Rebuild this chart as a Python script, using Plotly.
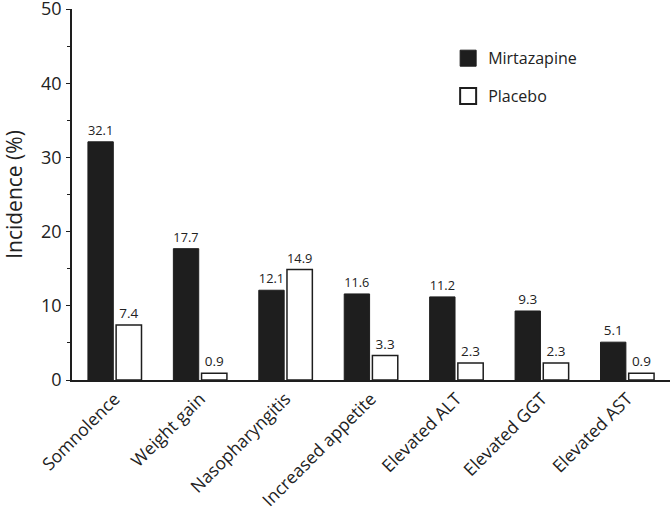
import plotly.graph_objects as go

categories = ["Somnolence", "Weight gain", "Nasopharyngitis", "Increased appetite",
              "Elevated ALT", "Elevated GGT", "Elevated AST"]
mirtazapine = [32.1, 17.7, 12.1, 11.6, 11.2, 9.3, 5.1]
placebo = [7.4, 0.9, 14.9, 3.3, 2.3, 2.3, 0.9]
y_ticks = [0, 10, 20, 30, 40, 50]

font_family = "Open Sans, Noto Sans, sans-serif"
dark = "#222222"

fig = go.Figure()
fig.add_trace(go.Bar(
    x=categories, y=mirtazapine, name="Mirtazapine",
    marker=dict(color="#1e1e1e", line=dict(color="#1e1e1e", width=1)),
    text=[f"{v:.1f}" for v in mirtazapine], textposition="outside",
    textfont=dict(size=13.5, color=dark, family=font_family),
    cliponaxis=False, showlegend=False,
))
fig.add_trace(go.Bar(
    x=categories, y=placebo, name="Placebo",
    marker=dict(color="white", line=dict(color="#1e1e1e", width=1.5)),
    text=[f"{v:.1f}" for v in placebo], textposition="outside",
    textfont=dict(size=13.5, color=dark, family=font_family),
    cliponaxis=False, showlegend=False,
))
# legend entries
fig.add_trace(go.Scatter(
    x=[None], y=[None], mode="markers", name="Mirtazapine",
    marker=dict(symbol="square", size=16, color="#1e1e1e", line=dict(color="#1e1e1e", width=1)),
    legendgroup="a",
))
fig.add_trace(go.Scatter(
    x=[None], y=[None], mode="markers", name="Placebo",
    marker=dict(symbol="square", size=16, color="white", line=dict(color="#1e1e1e", width=2)),
    legendgroup="b",
))

fig.update_layout(
    width=670, height=510,
    margin=dict(l=72, r=0, t=9, b=130, autoexpand=False),
    paper_bgcolor="white", plot_bgcolor="white",
    barmode="group", bargap=0.34, bargroupgap=0.1,
    font=dict(family=font_family, color=dark),
    legend=dict(x=0.629, y=0.913, xanchor="left", yanchor="top",
                font=dict(size=16, color=dark, family=font_family),
                tracegroupgap=14, bgcolor="rgba(0,0,0,0)"),
    xaxis=dict(
        showline=True, linecolor="#1e1e1e", linewidth=1.5, automargin=False,
        ticks="", tickangle=-45, tickfont=dict(size=17.5, color=dark),
        range=[-0.5, 6.5], showgrid=False, zeroline=False,
    ),
    yaxis=dict(
        range=[0, 50], tickvals=y_ticks, showline=True, linecolor="#1e1e1e", linewidth=1.5,
        automargin=False,
        ticks="outside", ticklen=4, tickwidth=1, tickcolor="#1e1e1e",
        tickfont=dict(size=18, color=dark), ticklabelstandoff=1,
        ticklabeloverflow="allow",
        minor=dict(dtick=5, ticks="outside", ticklen=3, tickcolor="#1e1e1e", tickwidth=1, showgrid=False),
        showgrid=False, zeroline=False,
        title=dict(text="Incidence (%)", font=dict(size=21, color=dark), standoff=20),
    ),
)

fig.write_html("out.html", post_script="document.body.style.margin='0';",
               config={"displayModeBar": False})
